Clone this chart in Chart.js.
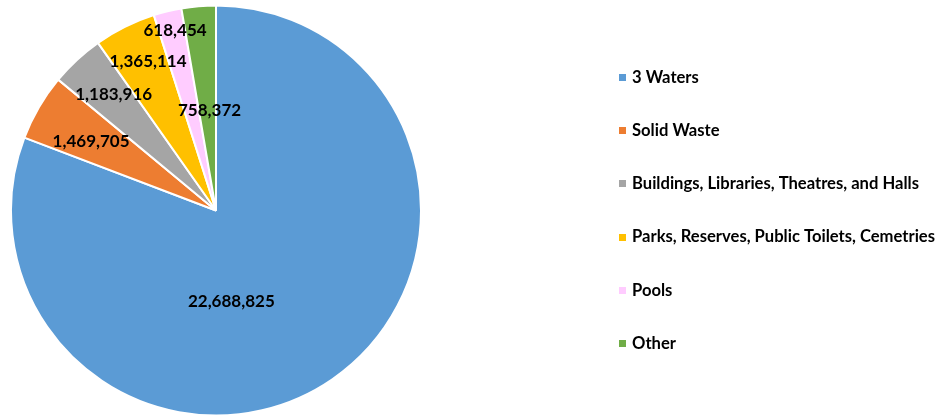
<!DOCTYPE html>
<html>
<head>
<meta charset="utf-8">
<script src="https://cdn.jsdelivr.net/npm/chart.js@4/dist/chart.umd.min.js"></script>
<style>
  html, body { margin: 0; padding: 0; background: #ffffff; }
  #wrap { width: 941px; height: 417px; }
</style>
</head>
<body>
<div id="wrap"><canvas id="c" width="941" height="417"></canvas></div>
<script>
// Spending by activity group
const categories = [
  '3 Waters',
  'Solid Waste',
  'Buildings, Libraries, Theatres, and Halls',
  'Parks, Reserves, Public Toilets, Cemetries',
  'Pools',
  'Other'
];
const values = [22688825, 1469705, 1183916, 1365114, 618454, 758372];
const sliceColors = ['#5B9BD5', '#ED7D31', '#A5A5A5', '#FFC000', '#FFCCFF', '#70AD47'];

// Where each value label sits inside its slice:
// share of the slice's sweep, and share of the radius
const labelSweep = [0.586, 0.42, 0.58, 0.61, 0.61, 0.62];
const labelRadius = [0.45, 0.695, 0.753, 0.80, 0.90, 0.49];

const FONT = 'Lato, "Open Sans", "DejaVu Sans", sans-serif';

const valueLabels = {
  id: 'valueLabels',
  afterDatasetsDraw(chart) {
    const ctx = chart.ctx;
    const meta = chart.getDatasetMeta(0);
    ctx.save();
    ctx.font = 'bold 17px ' + FONT;
    ctx.fillStyle = '#000000';
    ctx.textAlign = 'center';
    ctx.textBaseline = 'middle';
    meta.data.forEach((arc, i) => {
      const p = arc.getProps(['x', 'y', 'startAngle', 'endAngle', 'outerRadius'], true);
      const a = p.startAngle + (p.endAngle - p.startAngle) * labelSweep[i];
      const r = p.outerRadius * labelRadius[i];
      const txt = chart.data.datasets[0].data[i].toLocaleString('en-US');
      ctx.fillText(txt, p.x + Math.cos(a) * r, p.y + Math.sin(a) * r);
    });
    ctx.restore();
  }
};

const sideLegend = {
  id: 'sideLegend',
  afterDraw(chart) {
    const ctx = chart.ctx;
    const ds = chart.data.datasets[0];
    const left = 619, top = 77.5, step = 53.2, box = 7;
    ctx.save();
    ctx.font = 'bold 16.6px ' + FONT;
    ctx.textAlign = 'left';
    ctx.textBaseline = 'middle';
    chart.data.labels.forEach((lab, i) => {
      const y = top + i * step;
      ctx.fillStyle = ds.backgroundColor[i];
      ctx.fillRect(left, Math.round(y - box / 2), box, box);
      ctx.fillStyle = '#000000';
      ctx.fillText(lab, left + 13, y);
    });
    ctx.restore();
  }
};

new Chart(document.getElementById('c'), {
  type: 'pie',
  data: {
    labels: categories,
    datasets: [{
      data: values,
      backgroundColor: sliceColors,
      borderColor: '#ffffff',
      borderWidth: 2
    }]
  },
  options: {
    responsive: false,
    animation: false,
    layout: { padding: { left: 10, top: 4, right: 519, bottom: 0 } },
    plugins: {
      legend: { display: false },
      tooltip: { enabled: false }
    }
  },
  plugins: [valueLabels, sideLegend]
});
</script>
</body>
</html>
